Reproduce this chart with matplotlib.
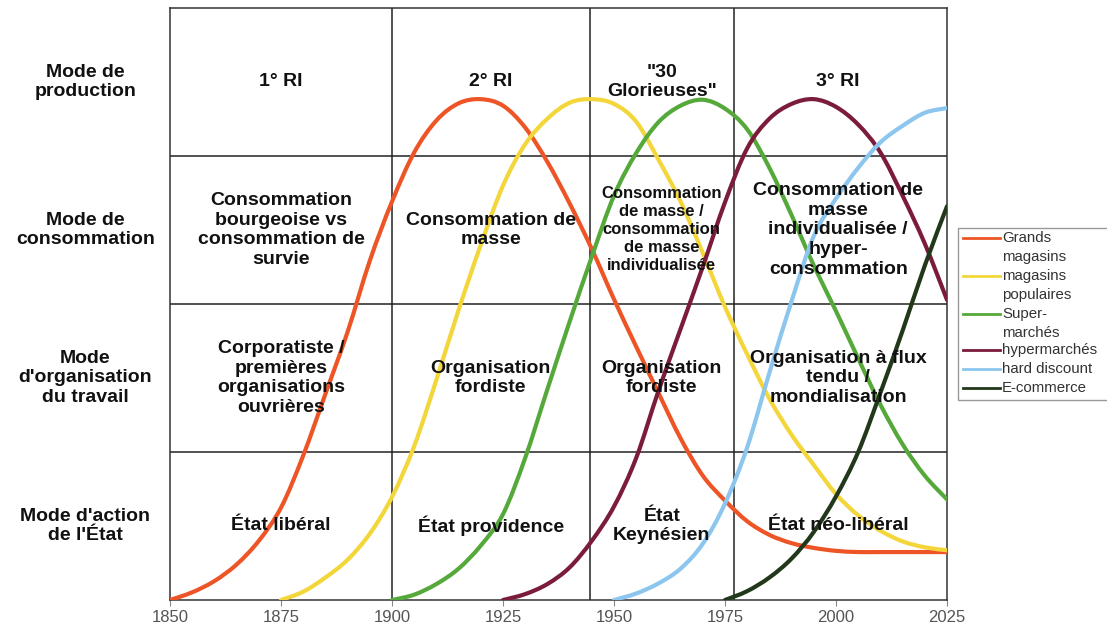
# Courbes de vie des formes de commerce, superposees a un tableau
# des modes de production / consommation / travail / action de l'Etat

import matplotlib.pyplot as plt
from matplotlib.lines import Line2D
from matplotlib.patches import Rectangle, PathPatch
from matplotlib.path import Path
import matplotlib.transforms as mtransforms

# --- donnees lues tous les 5 ans ---
annees_grands = list(range(1850, 2030, 5))
grands_magasins = [0, 1.3, 3.2, 6, 10, 15.6, 24.4, 34.8, 45.3, 57.3, 67.3, 75.6,
                   81, 83.9, 84.6, 83.5, 79.8, 74, 67, 59.3, 50.8, 42.8, 35, 27.3,
                   21, 16.8, 13.3, 11, 9.6, 8.8, 8.3, 8.1, 8.1, 8.1, 8.1, 8.1]

annees_populaires = list(range(1875, 2030, 5))
magasins_populaires = [0, 1.4, 3.8, 6.8, 11.2, 17.4, 26, 37.2, 49, 60, 70, 77,
                       81.3, 84, 84.6, 83.8, 80.8, 74.4, 67.3, 58.6, 49.5, 41.5,
                       34, 27.9, 22.8, 17.9, 14.3, 11.7, 9.9, 8.9, 8.4]

annees_super = list(range(1900, 2030, 5))
supermarches = [0, 0.9, 2.7, 5.3, 9.2, 14.5, 24, 35.6, 47, 58, 68.3, 75.5, 80.7,
                83.5, 84.5, 83, 79.5, 73, 65, 56.5, 48.8, 40.8, 33, 26.3, 21, 17]

annees_hyper = list(range(1925, 2030, 5))
hypermarches = [0, 1, 2.7, 5.5, 10, 15.8, 24, 35.3, 45.8, 56.3, 67.2, 76.3, 81.3,
                83.8, 84.6, 83.3, 80.3, 75.6, 68.3, 60.2, 50.7]

annees_discount = list(range(1950, 2030, 5))
hard_discount = [0, 1.1, 2.8, 5.3, 9.5, 16.3, 25.8, 38.4, 50.5, 61.5, 67.8, 73,
                 77.3, 80.1, 82.3, 83.1]

annees_ecommerce = list(range(1975, 2030, 5))
ecommerce = [0, 1.5, 3.8, 7, 11.5, 17.5, 25, 35, 45.5, 56.5, 66.5]

noms_series = ["Grands\nmagasins", "magasins\npopulaires", "Super-\nmarchés",
               "hypermarchés", "hard discount", "E-commerce"]
couleurs = ["#EE5526", "#F3D63A", "#55A93A", "#7A1C3A", "#8CC6EE", "#22381A"]

# --- tableau ---
bornes_colonnes = [1900, 1944.5, 1977]
bornes_lignes = [25, 50, 75]
centres_colonnes = [1875, 1922.25, 1960.75, 2000.5]
centres_lignes = [87.5, 62.5, 37.5, 12.5]

titres_lignes = ["Mode de\nproduction", "Mode de\nconsommation",
                 "Mode\nd'organisation\ndu travail", "Mode d'action\nde l'État"]

cellules = [
    ["1° RI", "2° RI", "\"30\nGlorieuses\"", "3° RI"],
    ["Consommation\nbourgeoise vs\nconsommation de\nsurvie",
     "Consommation de\nmasse",
     "Consommation\nde masse /\nconsommation\nde masse\nindividualisée",
     "Consommation de\nmasse\nindividualisée /\nhyper-\nconsommation"],
    ["Corporatiste /\npremières\norganisations\nouvrières",
     "Organisation\nfordiste", "Organisation\nfordiste",
     "Organisation à flux\ntendu /\nmondialisation"],
    ["État libéral", "État providence", "État\nKeynésien", "État néo-libéral"],
]


def courbe_lisse(ax, x, y, couleur):
    # ligne lissee (bezier de type catmull-rom) passant par chaque point
    pts = list(zip(x, y))
    n = len(pts)
    verts = [pts[0]]
    codes = [Path.MOVETO]
    for i in range(n - 1):
        p0 = pts[max(i - 1, 0)]
        p1 = pts[i]
        p2 = pts[i + 1]
        p3 = pts[min(i + 2, n - 1)]
        c1 = (p1[0] + (p2[0] - p0[0]) / 6, p1[1] + (p2[1] - p0[1]) / 6)
        c2 = (p2[0] - (p3[0] - p1[0]) / 6, p2[1] - (p3[1] - p1[1]) / 6)
        verts += [c1, c2, p2]
        codes += [Path.CURVE4] * 3
    ax.add_patch(PathPatch(Path(verts, codes), fill=False, edgecolor=couleur,
                           lw=3, capstyle="round", zorder=3))


plt.rcParams["font.family"] = ["Liberation Sans", "DejaVu Sans"]

fig = plt.figure(figsize=(11.07, 6.26), dpi=100)
ax = fig.add_axes([170 / 1107, 26 / 626, 777 / 1107, 592 / 626])

series = [
    (annees_grands, grands_magasins),
    (annees_populaires, magasins_populaires),
    (annees_super, supermarches),
    (annees_hyper, hypermarches),
    (annees_discount, hard_discount),
    (annees_ecommerce, ecommerce),
]
for (x, y), c in zip(series, couleurs):
    courbe_lisse(ax, x, y, c)

ax.set_xlim(1850, 2025)
ax.set_ylim(0, 100)

# lignes du tableau
for xb in bornes_colonnes:
    ax.axvline(xb, color="#222222", lw=1.1, zorder=2)
for yb in bornes_lignes:
    ax.axhline(yb, color="#222222", lw=1.1, zorder=2)
for s in ax.spines.values():
    s.set_color("#333333")
    s.set_linewidth(1.1)

ax.set_xticks(range(1850, 2026, 25))
ax.tick_params(axis="x", colors="#888888", labelcolor="#555555", length=4,
               labelsize=12)
ax.set_yticks([])

# textes des cellules
for i, ligne in enumerate(cellules):
    for j, txt in enumerate(ligne):
        petit = (i == 1 and j == 2)
        ax.text(centres_colonnes[j], centres_lignes[i], txt, ha="center",
                va="center", multialignment="center",
                fontsize=12 if petit else 14, fontweight="bold",
                color="#111111", linespacing=1.25 if petit else 1.23, zorder=4)

# titres des lignes a gauche
trans = mtransforms.blended_transform_factory(ax.transAxes, ax.transData)
for yc, titre in zip(centres_lignes, titres_lignes):
    ax.text(-0.109, yc, titre, transform=trans, ha="center", va="center",
            multialignment="center", fontsize=14, fontweight="bold",
            color="#111111", linespacing=1.2)

# legende dessinee a la main (la marque est alignee sur la premiere ligne)
fig.patches.append(Rectangle((958 / 1107, 1 - 400 / 626), 160 / 1107, 172 / 626,
                             transform=fig.transFigure, fill=False,
                             edgecolor="#999999", lw=1))
y_entrees = [238, 276, 314, 350, 369, 388]
for yp, nom, c in zip(y_entrees, noms_series, couleurs):
    yf = 1 - yp / 626
    fig.lines.append(Line2D([963 / 1107, 1000 / 1107], [yf, yf], color=c, lw=2,
                            transform=fig.transFigure))
    for k, morceau in enumerate(nom.split("\n")):
        fig.text(1002 / 1107, 1 - (yp + 19 * k) / 626, morceau, ha="left",
                 va="center", fontsize=10.8, color="#333333")

fig.savefig("out.png", dpi=100)
